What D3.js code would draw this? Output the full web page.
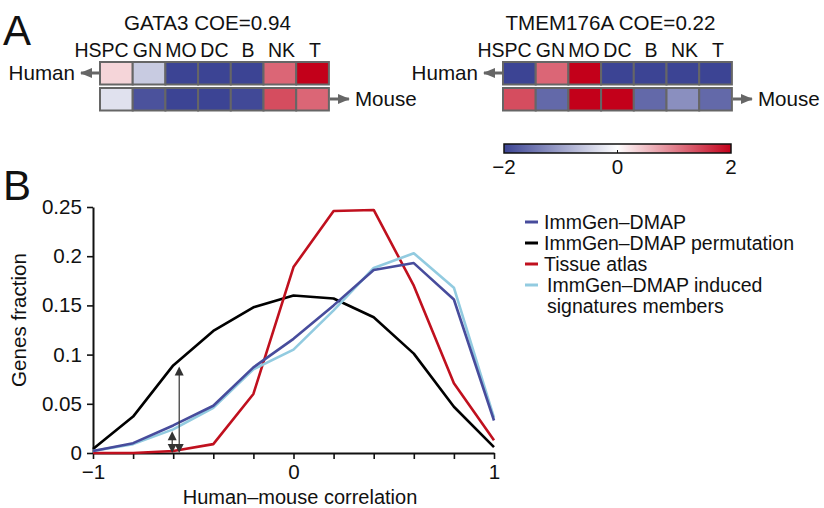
<!DOCTYPE html>
<html><head><meta charset="utf-8">
<script src="https://cdn.jsdelivr.net/npm/d3@7"></script>
<style>
body{margin:0;background:#fff}
text{font-family:"Liberation Sans",Arial,Helvetica,sans-serif;fill:#111}
</style></head>
<body><svg id="c" width="824" height="508"></svg>
<script>
// ---------- data ----------
const cellTypes = ["HSPC","GN","MO","DC","B","NK","T"];
const gata3Human = [0.33,-0.56,-2,-2,-2,1.2,2];
const gata3Mouse = [-0.32,-1.85,-2,-2,-1.95,1.4,1.2];
const tmemHuman  = [-2,1.2,2,-2,-2,-2,-2];
const tmemMouse  = [1.4,-1.6,2,2,-1.6,-1.2,-1.6];
const heatTitles = ["GATA3 COE=0.94","TMEM176A COE=0.22"];
const colorTicks = [-2,0,2];

const corrX = [-1,-0.8,-0.6,-0.4,-0.2,0,0.2,0.4,0.6,0.8,1];
const immgen      = [0.002,0.010,0.028,0.048,0.087,0.116,0.150,0.186,0.193,0.156,0.033];
const permutation = [0.004,0.037,0.089,0.124,0.148,0.160,0.157,0.138,0.101,0.047,0.006];
const tissue      = [0.000,0.000,0.002,0.009,0.060,0.189,0.246,0.247,0.170,0.071,0.013];
const induced     = [0.002,0.009,0.024,0.046,0.085,0.105,0.145,0.188,0.203,0.168,0.036];
const seriesNames = ["ImmGen\u2013DMAP","ImmGen\u2013DMAP permutation","Tissue atlas","ImmGen\u2013DMAP induced|signatures members"];
const yTicks = [0,0.05,0.1,0.15,0.2,0.25];
const yTickLabels = ["0","0.05","0.1","0.15","0.2","0.25"];
const xTicks = [-1,-0.8,-0.6,-0.4,-0.2,0,0.2,0.4,0.6,0.8,1];
const xTickLabels = {"-1":"\u22121","0":"0","1":"1"};
// arrows: [x, top value, bottom value]
const arrows = [[-0.57,0.088,0],[-0.605,0.022,0]];

const svg = d3.select("#c");
const FS = 20.6;

// ---------- panel letters ----------
svg.append("text").attr("x",3).attr("y",45).attr("font-size",42).text("A");
svg.append("text").attr("x",3).attr("y",200).attr("font-size",42).text("B");

// ---------- heatmaps ----------
const color = d3.scaleLinear().domain([-2,0,2]).range(["#3c4494","#ffffff","#c3001a"]);
const grey = "#666";
const defs = svg.append("defs");
defs.html(`
 <marker id="ah" viewBox="0 0 12 10" refX="11" refY="5" markerWidth="12" markerHeight="10" markerUnits="userSpaceOnUse" orient="auto">
  <path d="M0,0 L12,5 L0,10 Z" fill="${grey}"/></marker>`);

const heatmaps = [
  {left:100, rows:[gata3Human,gata3Mouse], title:heatTitles[0]},
  {left:503, rows:[tmemHuman,tmemMouse], title:heatTitles[1]}
];
const cellW = 32.7, rowY = [62,88], rowH = 22.5;
heatmaps.forEach(h=>{
  const xb = d3.scaleBand().domain(cellTypes).range([h.left, h.left+cellW*7]);
  const g = svg.append("g");
  g.append("text").attr("x",h.left+cellW*3.5-7).attr("y",30).attr("text-anchor","middle")
    .attr("font-size",FS).text(h.title);
  g.selectAll("text.cl").data(cellTypes).join("text").attr("class","cl")
    .attr("x",(d,i)=>i===0 ? xb(d)+xb.bandwidth()-4 : xb(d)+xb.bandwidth()/2+(i-3)*0.8)
    .attr("y",57).attr("text-anchor",(d,i)=>i===0?"end":"middle")
    .attr("font-size",19.5).text(d=>d);
  h.rows.forEach((vals,ri)=>{
    g.selectAll("rect.r"+ri).data(vals).join("rect").attr("class","r"+ri)
      .attr("x",(d,i)=>xb(cellTypes[i])).attr("y",rowY[ri])
      .attr("width",xb.bandwidth()).attr("height",rowH)
      .attr("fill",d=>color(d)).attr("stroke",grey).attr("stroke-width",2);
  });
  const right = h.left+cellW*7;
  g.append("line").attr("x1",h.left-1).attr("x2",h.left-19).attr("y1",73).attr("y2",73)
    .attr("stroke",grey).attr("stroke-width",3).attr("marker-end","url(#ah)");
  g.append("text").attr("x",h.left-25).attr("y",80).attr("text-anchor","end").attr("font-size",FS).text("Human");
  g.append("line").attr("x1",right+1).attr("x2",right+20).attr("y1",99).attr("y2",99)
    .attr("stroke",grey).attr("stroke-width",3).attr("marker-end","url(#ah)");
  g.append("text").attr("x",right+26).attr("y",106).attr("font-size",FS).text("Mouse");
});

// ---------- colour bar ----------
const cb = d3.scaleLinear().domain([-2,2]).range([504,731]);
const grad = defs.append("linearGradient").attr("id","cbg");
colorTicks.forEach(v=>grad.append("stop").attr("offset",(v+2)/4).attr("stop-color",color(v)));
svg.append("rect").attr("x",cb(-2)).attr("y",144).attr("width",cb(2)-cb(-2)).attr("height",9)
  .attr("fill","url(#cbg)").attr("stroke","#111").attr("stroke-width",1.5);
svg.append("line").attr("x1",cb(0)).attr("x2",cb(0)).attr("y1",150).attr("y2",153).attr("stroke","#111");
svg.selectAll("text.cbt").data(colorTicks).join("text").attr("class","cbt")
  .attr("x",d=>cb(d)).attr("y",174).attr("text-anchor","middle").attr("font-size",FS)
  .text(d=>d<0?"\u2212"+(-d):d);

// ---------- line chart ----------
const x = d3.scaleLinear().domain([-1,1]).range([93,494]);
const y = d3.scaleLinear().domain([0,0.25]).range([453,207]);

const yAx = svg.append("g").attr("transform","translate(93,0)")
  .call(d3.axisLeft(y).tickValues(yTicks).tickSize(6).tickSizeOuter(0).tickPadding(5)
    .tickFormat((d,i)=>yTickLabels[i]));
const xAx = svg.append("g").attr("transform","translate(0,453)")
  .call(d3.axisBottom(x).tickValues(xTicks).tickSize(6).tickSizeOuter(0).tickPadding(5)
    .tickFormat(d=>xTickLabels[String(Math.round(d*10)/10)]||""));
[yAx,xAx].forEach(a=>{
  a.select(".domain").attr("stroke","#111").attr("stroke-width",2);
  a.selectAll(".tick line").attr("stroke","#111").attr("stroke-width",1.6);
  a.selectAll(".tick text").attr("font-size",FS).attr("font-family","Liberation Sans, Arial, sans-serif").attr("fill","#111");
});

svg.append("text").attr("transform","translate(26,320) rotate(-90)").attr("text-anchor","middle")
  .attr("font-size",FS).text("Genes fraction");
svg.append("text").attr("x",300).attr("y",504).attr("text-anchor","middle")
  .attr("font-size",20).text("Human\u2013mouse correlation");

const line = d3.line().x((d,i)=>x(corrX[i])).y(d=>y(d));
const series = [
  {v:permutation, c:"#000000"},
  {v:tissue, c:"#c0101e"},
  {v:induced, c:"#92cbe0"},
  {v:immgen, c:"#474c9c"}
];
series.forEach(s=>{
  svg.append("path").datum(s.v).attr("d",line).attr("fill","none")
    .attr("stroke",s.c).attr("stroke-width",2.6).attr("stroke-linejoin","round");
});

// annotation double arrows
arrows.forEach(a=>{
  const ax = x(a[0]), yt = y(a[1]), yb = y(a[2]);
  svg.append("line").attr("x1",ax).attr("x2",ax).attr("y1",yt+4).attr("y2",yb-4)
    .attr("stroke","#333").attr("stroke-width",1.2);
  svg.append("path").attr("d",`M${ax},${yt} L${ax-4.5},${yt+9} L${ax+4.5},${yt+9} Z`).attr("fill","#333");
  svg.append("path").attr("d",`M${ax},${yb} L${ax-4.5},${yb-9} L${ax+4.5},${yb-9} Z`).attr("fill","#333");
});

// legend
const legColors = ["#474c9c","#000000","#c0101e","#92cbe0"];
const LFS = 19.5, LSP = 21;
const lg = svg.append("g");
seriesNames.forEach((n,i)=>{
  const yy = 222+LSP*i;
  lg.append("line").attr("x1",525).attr("x2",538).attr("y1",yy).attr("y2",yy)
    .attr("stroke",legColors[i]).attr("stroke-width",3);
  n.split("|").forEach((part,j)=>{
    lg.append("text").attr("x",i===3?547:544).attr("y",yy+7+LSP*j).attr("font-size",LFS).text(part);
  });
});
</script></body></html>
